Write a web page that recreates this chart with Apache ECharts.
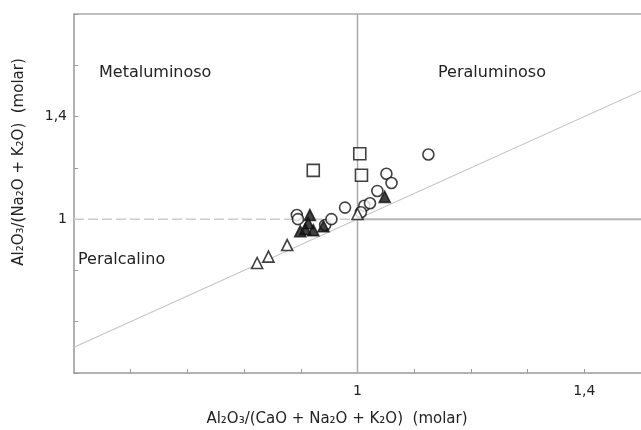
<!DOCTYPE html>
<html><head><meta charset="utf-8">
<script src="https://cdn.jsdelivr.net/npm/echarts@6/dist/echarts.min.js"></script>
<style>html,body{margin:0;padding:0;background:#fff}#c{width:641px;height:430px}</style>
</head><body><div id="c"></div>
<script>
// Data: [A/CNK, A/NK]
const squaresOpen = [[0.922,1.190],[1.004,1.255],[1.007,1.171]];
const circlesOpen = [[1.125,1.252],[1.051,1.177],[1.060,1.141],[1.035,1.110],[0.978,1.045],
  [0.893,1.016],[0.895,1.000],[0.943,0.977],[0.954,1.000],[1.012,1.052],[1.022,1.062],[1.006,1.027]];
const trianglesOpen = [[0.823,0.829],[0.843,0.854],[0.876,0.899],[1.000,1.020]];
const trianglesFilled = [[1.048,1.087],[0.916,1.016],[0.899,0.953],[0.908,0.961],[0.922,0.957],[0.913,0.984],[0.940,0.972]];
const diagonalLine = [[0.5,0.5],[1.5,1.5]];
const hLineLeft = [[0.5,1],[1,1]];
const hLineRight = [[1,1],[1.5,1]];
const vLine = [[1,0.4],[1,1.8]];
const xTickLabels = [1, 1.4];
const yTickLabels = [1, 1.4];
const fieldLabels = ['Metaluminoso','Peraluminoso','Peralcalino'];

const font = 'DejaVu Sans';
const fmt = (list) => (v) => list.some(t => Math.abs(t - v) < 1e-6) ? String(+v.toFixed(1)).replace('.', ',') : '';
const chart = echarts.init(document.getElementById('c'));
const mk = (name, data, symbol, filled, size) => ({
  type:'scatter', name, data, symbol, symbolSize:size, z:5,
  itemStyle:{color: filled ? '#111' : '#fff', borderColor:'#111', borderWidth:1.6}
});
const ln = (data, color, width, type) => ({
  type:'line', data, symbol:'none', silent:true, z:2,
  lineStyle:{color, width, type: type || 'solid'}
});
chart.setOption({
  animation:false,
  backgroundColor:'#fff',
  grid:{left:74, top:14, width:570, height:359},
  xAxis:[{
    type:'value', min:0.5, max:1.5, interval:0.1, position:'bottom',
    axisLine:{show:true, lineStyle:{color:'#999', width:1.5}},
    axisTick:{show:true, inside:true, length:4, lineStyle:{color:'#999'}},
    splitLine:{show:false},
    axisLabel:{formatter:fmt(xTickLabels), color:'#222', fontFamily:font, fontSize:14, margin:11, showMinLabel:false, showMaxLabel:false}
  },{
    type:'value', min:0.5, max:1.5, position:'top',
    axisLine:{show:true, lineStyle:{color:'#aaa', width:1.5}},
    axisTick:{show:false}, axisLabel:{show:false}, splitLine:{show:false}
  }],
  yAxis:{
    type:'value', min:0.4, max:1.8, interval:0.2,
    axisLine:{show:true, lineStyle:{color:'#999', width:1.5}},
    axisTick:{show:true, inside:true, length:4, lineStyle:{color:'#999'}},
    splitLine:{show:false},
    axisLabel:{formatter:fmt(yTickLabels), color:'#222', fontFamily:font, fontSize:14, margin:7}
  },
  graphic:[
    {type:'text', left:99, top:65, style:{text:fieldLabels[0], fontFamily:font, fontSize:16, fill:'#222'}},
    {type:'text', left:438, top:65, style:{text:fieldLabels[1], fontFamily:font, fontSize:16, fill:'#222'}},
    {type:'text', left:78, top:252, style:{text:fieldLabels[2], fontFamily:font, fontSize:16, fill:'#222'}},
    {type:'text', x:337, y:419, style:{text:'Al₂O₃/(CaO + Na₂O + K₂O)  (molar)', fontFamily:font, fontSize:15, fill:'#222', align:'center', verticalAlign:'middle'}},
    {type:'text', x:19, y:162, rotation:Math.PI/2, style:{text:'Al₂O₃/(Na₂O + K₂O)  (molar)', fontFamily:font, fontSize:15, fill:'#222', align:'center', verticalAlign:'middle'}}
  ],
  series:[
    ln(diagonalLine, '#c4c4c4', 1.1),
    ln(hLineLeft, '#ccc', 1.5, [10,4]),
    ln(hLineRight, '#b5b5b5', 2),
    ln(vLine, '#aaa', 1.5),
    mk('sq', squaresOpen, 'rect', false, 12),
    mk('ci', circlesOpen, 'circle', false, 11),
    mk('to', trianglesOpen, 'triangle', false, 11),
    mk('tf', trianglesFilled, 'triangle', true, 11)
  ]
});
</script></body></html>
